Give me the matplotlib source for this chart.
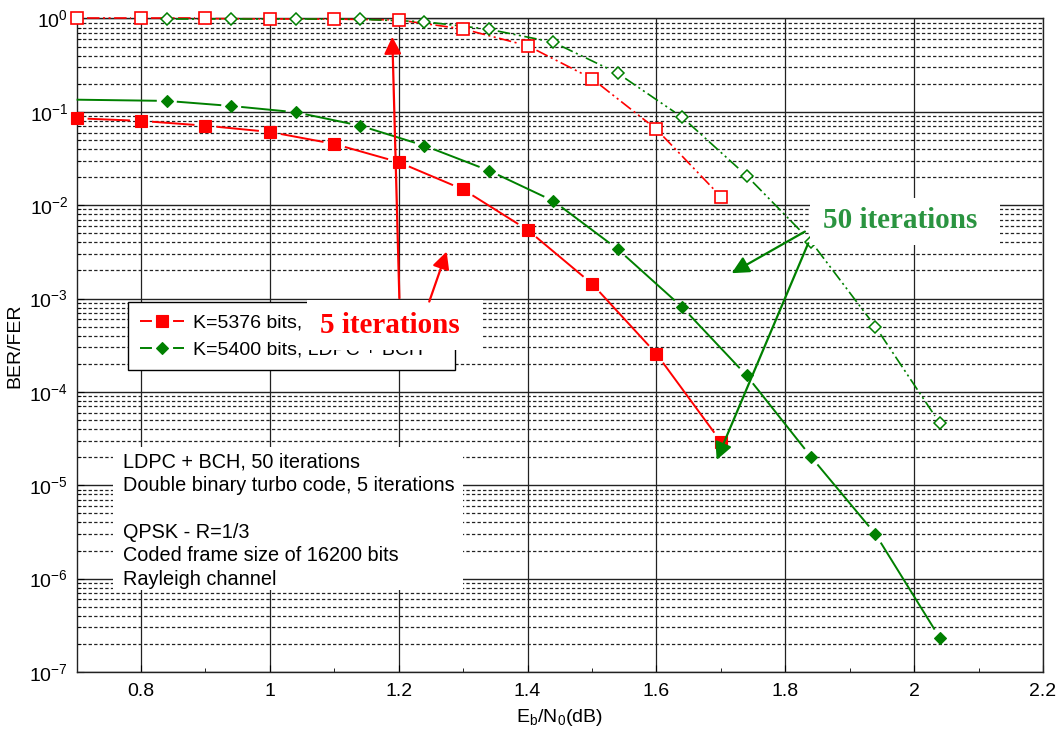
import numpy as np
import matplotlib
matplotlib.use('Agg')
import matplotlib.pyplot as plt
from matplotlib.lines import Line2D
from matplotlib.patches import Rectangle
from matplotlib.ticker import LogLocator, MultipleLocator, FuncFormatter, NullFormatter

plt.rcParams['font.family'] = ['Liberation Sans', 'DejaVu Sans']
plt.rcParams['mathtext.fontset'] = 'custom'
plt.rcParams['mathtext.rm'] = 'Liberation Sans'
plt.rcParams['lines.scale_dashes'] = False
plt.rcParams['axes.unicode_minus'] = False

# ---------------- data ----------------
ebn0_turbo = [0.7, 0.8, 0.9, 1.0, 1.1, 1.2, 1.3, 1.4, 1.5, 1.6, 1.7]
ber_turbo = [0.0854, 0.080, 0.0711, 0.0609, 0.0453, 0.0289, 0.01475, 0.00544, 0.00144, 2.56e-4, 2.94e-5]
fer_turbo = [1.0, 1.0, 1.0, 0.99, 0.985, 0.964, 0.772, 0.511, 0.227, 0.0651, 0.01236]

ebn0_ldpc_ber = [0.70, 0.84, 0.94, 1.04, 1.14, 1.24, 1.34, 1.44, 1.54, 1.64, 1.74, 1.84, 1.94, 2.04]
ber_ldpc = [0.135, 0.131, 0.1156, 0.099, 0.0711, 0.0434, 0.0235, 0.0111, 0.00338, 8.09e-4, 1.5e-4, 2.02e-5, 3.0e-6, 2.31e-7]

ebn0_ldpc_fer = [0.84, 0.94, 1.04, 1.14, 1.24, 1.34, 1.44, 1.54, 1.64, 1.74, 1.84, 1.94, 2.04]
fer_ldpc = [0.99, 0.99, 0.99, 0.98, 0.924, 0.766, 0.556, 0.259, 0.0875, 0.0207, 0.00408, 5.0e-4, 4.6e-5]

legend_labels = ['K=5376 bits, DVB-RCS code', 'K=5400 bits, LDPC + BCH']
info_lines = ['LDPC + BCH, 50 iterations',
              'Double binary turbo code, 5 iterations',
              '',
              'QPSK - R=1/3',
              'Coded frame size of 16200 bits',
              'Rayleigh channel']
x_ticks = [0.8, 1.0, 1.2, 1.4, 1.6, 1.8, 2.0, 2.2]

RED = '#ff0000'
GREEN = '#008000'
GREEN_TXT = '#2a9440'

fig = plt.figure(figsize=(10.61, 7.31), dpi=100)
ax = fig.add_axes([0.0722, 0.0807, 0.9108, 0.894])

# ---------------- axes ----------------
ax.set_yscale('log')
ax.set_xlim(0.7, 2.2)
ax.set_ylim(1e-7, 1.0)
ax.set_xticks(x_ticks)
ax.xaxis.set_major_formatter(FuncFormatter(lambda v, p: '%g' % v))
ax.xaxis.set_minor_locator(MultipleLocator(0.1))
ax.yaxis.set_major_locator(LogLocator(base=10, numticks=20))
ax.yaxis.set_minor_locator(LogLocator(base=10, subs=np.arange(2, 10), numticks=100))
ax.yaxis.set_minor_formatter(NullFormatter())
ax.tick_params(which='both', direction='in', labelsize=14, top=False, right=False)
ax.tick_params(axis='x', which='major', length=5, pad=8)
ax.tick_params(axis='y', which='major', length=5, pad=6)
ax.tick_params(which='minor', length=3)

ax.set_axisbelow(True)
ax.yaxis.grid(True, which='major', ls='-', color='#222222', lw=1.0)
ax.yaxis.grid(True, which='minor', ls=(0, (2.4, 1.6)), color='#222222', lw=0.9)
ax.xaxis.grid(True, which='major', ls='-', color='#222222', lw=0.9)
for s in ax.spines.values():
    s.set_color('#222222')
    s.set_linewidth(1.0)

ax.set_xlabel(r'E$_\mathregular{b}$/N$_\mathregular{0}$(dB)', fontsize=14, labelpad=5)
ax.set_ylabel('BER/FER', fontsize=14, labelpad=4)


# ---------------- curves (Origin style: line broken around symbols) ----------------
def gapped_line(xs, ys, gap_px, has_marker, **kw):
    pts = ax.transData.transform(np.column_stack([xs, ys]))
    inv = ax.transData.inverted()
    for i in range(len(pts) - 1):
        p, q = pts[i], pts[i + 1]
        d = q - p
        L = np.hypot(d[0], d[1])
        g0 = gap_px if has_marker[i] else 0.0
        g1 = gap_px if has_marker[i + 1] else 0.0
        if L <= g0 + g1 + 1:
            continue
        u = d / L
        seg = inv.transform(np.array([p + u * g0, q - u * g1]))
        ax.plot(seg[:, 0], seg[:, 1], solid_capstyle='butt', dash_capstyle='butt',
                clip_on=False, **kw)


ddd = (9, 2.5, 1.5, 2.5, 1.5, 2.5)
all_m = lambda n: [True] * n

gapped_line(ebn0_turbo, fer_turbo, 10, all_m(len(ebn0_turbo)),
            color=RED, lw=1.2, dashes=ddd, zorder=3)
ax.plot(ebn0_turbo, fer_turbo, ls='none', marker='s', ms=8.8, mfc='white',
        mec=RED, mew=1.2, zorder=3.5, clip_on=False)

gapped_line(ebn0_ldpc_fer, fer_ldpc, 9, all_m(len(ebn0_ldpc_fer)),
            color=GREEN, lw=1.2, dashes=ddd, zorder=3)
ax.plot(ebn0_ldpc_fer, fer_ldpc, ls='none', marker='D', ms=6.3, mfc='white',
        mec=GREEN, mew=1.1, zorder=3.5, clip_on=False)

gapped_line(ebn0_turbo, ber_turbo, 11, all_m(len(ebn0_turbo)),
            color=RED, lw=1.4, ls='-', zorder=4)
ax.plot(ebn0_turbo, ber_turbo, ls='none', marker='s', ms=9, mfc=RED,
        mec=RED, mew=0.8, zorder=4.5, clip_on=False)

ldpc_has_marker = [False] + [True] * (len(ebn0_ldpc_ber) - 1)
gapped_line(ebn0_ldpc_ber, ber_ldpc, 10, ldpc_has_marker,
            color=GREEN, lw=1.4, ls='-', zorder=4)
ax.plot(ebn0_ldpc_ber[1:], ber_ldpc[1:], ls='none', marker='D', ms=5.8, mfc=GREEN,
        mec=GREEN, mew=0.8, zorder=4.5, clip_on=False)

# ---------------- legend ----------------
h1 = Line2D([0], [0], color=RED, lw=1.4, ls=(0, (8.6, 15.2, 8.6, 60)),
            marker='s', ms=9, mfc=RED, mec=RED, mew=0.8)
h2 = Line2D([0], [0], color=GREEN, lw=1.4, ls=(0, (8.6, 15.2, 8.6, 60)),
            marker='D', ms=5.8, mfc=GREEN, mec=GREEN, mew=0.8)
leg = ax.legend([h1, h2], legend_labels, loc='upper left',
                bbox_to_anchor=(0.0532, 0.566), borderaxespad=0,
                fancybox=False, framealpha=1, edgecolor='black',
                fontsize=14, handlelength=2.3, borderpad=0.6,
                labelspacing=0.5, handletextpad=0.45)
leg.get_frame().set_linewidth(1.0)
leg.set_zorder(5)

# ---------------- info box ----------------
ax.add_patch(Rectangle((0.0377, 0.1255), 0.3617, 0.2188, transform=ax.transAxes,
                       fc='white', ec='none', zorder=6))
ax.text(0.048, 0.3366, '\n'.join(info_lines), transform=ax.transAxes,
        ha='left', va='top', fontsize=14.3, linespacing=1.3, zorder=6.5)

# ---------------- annotations ----------------
ax.add_patch(Rectangle((0.2384, 0.4927), 0.1821, 0.0765, transform=ax.transAxes,
                       fc='white', ec='none', zorder=9))
ax.text(1.186, 5.2e-4, '5 iterations', color=RED, fontsize=21,
        family='Liberation Serif', weight='bold', ha='center', va='center', zorder=10)
arrow_kw = dict(arrowstyle='-|>', lw=1.6, mutation_scale=26, shrinkA=0, shrinkB=0)
ax.annotate('', xy=(1.19, 0.638), xytext=(1.201, 1.01e-3),
            arrowprops=dict(color=RED, **arrow_kw), zorder=12)
ax.annotate('', xy=(1.2744, 3.19e-3), xytext=(1.2474, 9.29e-4),
            arrowprops=dict(color=RED, **arrow_kw), zorder=12)

ax.add_patch(Rectangle((0.7589, 0.6534), 0.1966, 0.0719, transform=ax.transAxes,
                       fc='white', ec='none', zorder=9))
ax.text(1.978, 6.79e-3, '50 iterations', color=GREEN_TXT, fontsize=21,
        family='Liberation Serif', weight='bold', ha='center', va='center', zorder=10)
ax.annotate('', xy=(1.7168, 1.87e-3), xytext=(1.8305, 5.22e-3),
            arrowprops=dict(color=GREEN, **arrow_kw), zorder=12)
ax.annotate('', xy=(1.6935, 1.87e-5), xytext=(1.8357, 3.92e-3),
            arrowprops=dict(color=GREEN, **arrow_kw), zorder=12)

fig.savefig('out.png', dpi=100)
